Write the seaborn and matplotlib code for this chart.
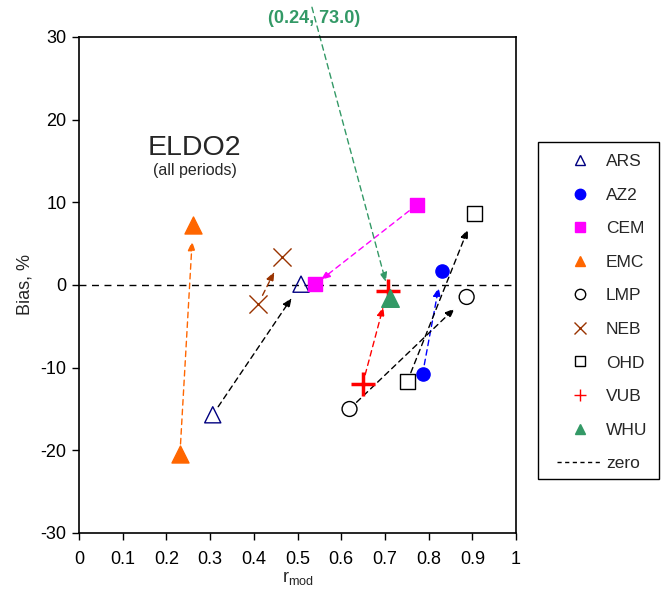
import matplotlib
matplotlib.use("Agg")
import matplotlib.pyplot as plt
import seaborn as sns
from matplotlib.lines import Line2D
from matplotlib.patches import Rectangle

# Model results: first period -> second period (correlation r_mod, bias %)
models = ["ARS", "AZ2", "CEM", "EMC", "LMP", "NEB", "OHD", "VUB", "WHU"]
r_start = [0.306, 0.786, 0.773, 0.231, 0.619, 0.410, 0.751, 0.649, 0.24]
bias_start = [-15.7, -10.8, 9.7, -20.4, -15.0, -2.3, -11.7, -12.0, 73.0]
r_end = [0.508, 0.830, 0.541, 0.261, 0.887, 0.464, 0.904, 0.706, 0.712]
bias_end = [0.1, 1.7, 0.1, 7.3, -1.45, 3.4, 8.6, -0.7, -1.6]

x_ticks = [0, 0.1, 0.2, 0.3, 0.4, 0.5, 0.6, 0.7, 0.8, 0.9, 1]
x_tick_labels = ["0", "0.1", "0.2", "0.3", "0.4", "0.5", "0.6", "0.7", "0.8", "0.9", "1"]
y_ticks = [-30, -20, -10, 0, 10, 20, 30]

# Marker styles per model
colors = {"ARS": "#000080", "AZ2": "#0000FF", "CEM": "#FF00FF", "EMC": "#FF6600",
          "LMP": "#000000", "NEB": "#993300", "OHD": "#000000", "VUB": "#FF0000",
          "WHU": "#339966"}
markers = {"ARS": "^", "AZ2": "o", "CEM": "s", "EMC": "^", "LMP": "o",
           "NEB": "x", "OHD": "s", "VUB": "+", "WHU": "^"}
filled = {"ARS": False, "AZ2": True, "CEM": True, "EMC": True, "LMP": False,
          "NEB": None, "OHD": False, "VUB": None, "WHU": True}
sizes = {"ARS": 135, "AZ2": 90, "CEM": 115, "EMC": 150, "LMP": 115,
         "NEB": 170, "OHD": 115, "VUB": 300, "WHU": 160}
widths = {"ARS": 1.0, "AZ2": 1.0, "CEM": 1.0, "EMC": 1.0, "LMP": 1.0,
          "NEB": 1.0, "OHD": 1.0, "VUB": 2.5, "WHU": 1.0}
arrow_colors = {"ARS": "black", "AZ2": "#0000FF", "CEM": "#FF00FF", "EMC": "#FF6600",
                "LMP": "black", "NEB": "#993300", "OHD": "black", "VUB": "#FF0000",
                "WHU": "#339966"}
arrow_shrink_end = {"CEM": 5}

sns.set_style("ticks")
plt.rcParams["font.family"] = ["Liberation Sans", "DejaVu Sans"]
plt.rcParams["mathtext.fontset"] = "custom"
plt.rcParams["mathtext.rm"] = "Liberation Sans"
plt.rcParams["mathtext.it"] = "Liberation Sans"
plt.rcParams["axes.unicode_minus"] = False

fig = plt.figure(figsize=(6.68, 5.89), dpi=100)
ax = fig.add_axes([0.1183, 0.0951, 0.6542, 0.8421])

# zero-bias reference line
ax.axhline(0, color="black", lw=1.0, ls=(0, (5, 4)), zorder=1)

head = "-|>,head_length=0.55,head_width=0.22"
for i, m in enumerate(models):
    c = colors[m]
    kw = dict(marker=markers[m], s=sizes[m], linewidth=widths[m], zorder=3,
              legend=False, ax=ax)
    if filled[m] is None:
        kw.update(color=c)
    elif filled[m]:
        kw.update(color=c, edgecolor=c)
    else:
        kw.update(color=c, edgecolor=c, facecolor="none")
    sns.scatterplot(x=[r_start[i], r_end[i]], y=[bias_start[i], bias_end[i]], **kw)

    # change from first to second period
    if bias_start[i] <= 30:
        ax.annotate("", xy=(r_end[i], bias_end[i]), xytext=(r_start[i], bias_start[i]),
                    arrowprops=dict(arrowstyle=head, color=arrow_colors[m], lw=1.0,
                                    ls=(0, (4, 3)), shrinkA=7,
                                    shrinkB=arrow_shrink_end.get(m, 12),
                                    mutation_scale=10),
                    zorder=2)
    else:
        # off-scale start point: labelled above the frame
        ax.annotate("", xy=(r_end[i], bias_end[i]), xytext=(0.533, 33.6),
                    arrowprops=dict(arrowstyle=head, color=arrow_colors[m], lw=1.0,
                                    ls=(0, (4, 3)), shrinkA=0, shrinkB=12,
                                    mutation_scale=10),
                    annotation_clip=False, zorder=2)
        ax.text(0.538, 32.2, f"({r_start[i]:.2f}, {bias_start[i]:.1f})",
                color=arrow_colors[m], fontsize=13, fontweight="bold",
                ha="center", va="center", clip_on=False)

ax.set_xlim(0, 1)
ax.set_ylim(-30, 30)
ax.set_xticks(x_ticks)
ax.set_xticklabels(x_tick_labels)
ax.set_yticks(y_ticks)
ax.tick_params(axis="both", direction="out", length=5, width=1, labelsize=13,
               color="black", labelcolor="black")
ax.tick_params(axis="x", pad=8)
ax.tick_params(axis="y", pad=4)
for sp in ax.spines.values():
    sp.set_visible(True)
    sp.set_color("black")
    sp.set_linewidth(1.2)

ax.set_xlabel(r"r$_{\mathrm{mod}}$", fontsize=13, labelpad=1)
ax.set_ylabel("Bias, %", fontsize=13, labelpad=5)

ax.text(0.265, 16.6, "ELDO2", fontsize=20.5, ha="center", va="center")
ax.text(0.265, 13.8, "(all periods)", fontsize=11.5, ha="center", va="center")

# legend entries
handles = []
for m in models:
    c = colors[m]
    if filled[m] is None:
        h = Line2D([], [], ls="none", marker=markers[m], color=c, ms=9, mew=1.0)
    elif filled[m]:
        h = Line2D([], [], ls="none", marker=markers[m], color=c, mec=c, ms=7.5)
    else:
        h = Line2D([], [], ls="none", marker=markers[m], color=c, mec=c, mfc="none",
                   ms=7.5, mew=1.0)
    handles.append(h)
handles.append(Line2D([], [], color="black", lw=1.0, ls=(0, (3, 2.5))))
labels = models + ["zero"]
leg = fig.legend(handles, labels, loc="upper left", bbox_to_anchor=(0.8338, 0.7384),
                 borderaxespad=0, borderpad=0, fontsize=12.5, frameon=False,
                 handlelength=2.6, handletextpad=0.23, labelspacing=1.06)

# legend frame
fig.add_artist(Rectangle((0.8054, 0.1868), 0.1811, 0.5722, transform=fig.transFigure,
                         facecolor="none", edgecolor="black", lw=1.0))

fig.savefig("out.png", dpi=100)
